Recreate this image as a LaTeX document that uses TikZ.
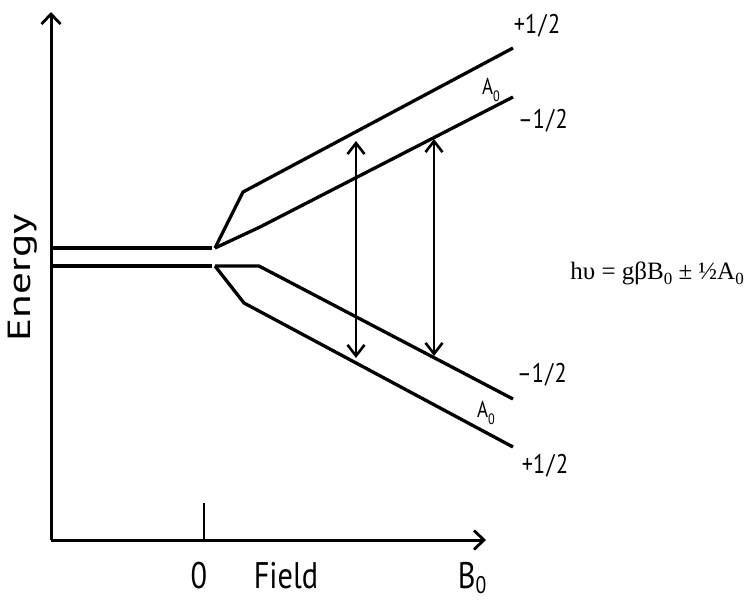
\documentclass[tikz,border=0pt]{standalone}
\usepackage{fontspec}
\setsansfont{PT Sans}
\newfontfamily\lblfont[FakeStretch=0.82]{PT Sans}
\newfontfamily\enfont[FakeStretch=1.35]{PT Sans}
\newfontfamily\eqfont{Liberation Serif}
\usetikzlibrary{arrows.meta,positioning}
\newcommand{\lowsub}[1]{\raisebox{-0.28em}{\fontsize{15}{15}\selectfont #1}}
\newcommand{\half}{1\kern1.5pt/\kern1.5pt2}
\tikzset{
  ax/.style    ={line width=3pt, -{Straight Barb[length=10pt,width=19pt,line width=2.8pt]}},
  tick/.style  ={line width=2.6pt},
  lvl/.style   ={line width=3.3pt, line join=miter},
  trans/.style ={line width=2.8pt, {Straight Barb[length=11pt,width=17pt,line width=2.6pt]}-{Straight Barb[length=11pt,width=17pt,line width=2.6pt]}},
  axlbl/.style ={font=\lblfont\fontsize{37}{37}\selectfont, inner sep=0pt, anchor=base},
  spin/.style  ={font=\lblfont\fontsize{27}{27}\selectfont, inner sep=0pt},
  hfc/.style   ={font=\lblfont\fontsize{23}{23}\selectfont, inner sep=0pt},
  eq/.style    ={font=\eqfont\fontsize{25}{25}\selectfont, inner sep=0pt, anchor=base east}
}

\begin{document}
\begin{tikzpicture}[x=1pt,y=-1pt]
  \useasboundingbox (0,0) rectangle (749,600);
  % --- axes
  \coordinate (o)    at (51,540);
  \coordinate (ytop) at (51,12);
  \coordinate (xend) at (486,540);
  \coordinate (t0)   at (204,540);
  \coordinate (t1)   at (204,503);
  \draw[ax] (o) -- (ytop);
  \draw[ax] (o) -- (xend);
  \draw[tick] (t0) -- (t1);
  \node[axlbl] (zero)  at (199,588) {0};
  \node[axlbl] (field) at (286,588) {Field};
  \node[axlbl] (bnot)  at (472,588) {B\raisebox{-0.16em}{\fontsize{24}{24}\selectfont 0}};
  \node[font=\enfont\fontsize{32}{32}\selectfont, rotate=90, inner sep=0pt] (energy) at (23,278) {Energy};

  % --- zero-field levels
  \coordinate (u0) at (51,248);  \coordinate (u1) at (212,248);
  \coordinate (l0) at (51,266);  \coordinate (l1) at (212,266);
  \draw[lvl] (u0) -- (u1);
  \draw[lvl] (l0) -- (l1);
  % --- split levels
  \coordinate (bu) at (215,248);  \coordinate (bl) at (215,266);
  \coordinate (ka) at (243,192);  \coordinate (ea) at (513,48);
  \coordinate (kb) at (260,227);  \coordinate (eb) at (513,97);
  \coordinate (kc) at (259,266);  \coordinate (ec) at (513,399);
  \coordinate (kd) at (244,303);  \coordinate (ed) at (513,447);
  \draw[lvl] (bu) -- (ka) -- (ea);
  \draw[lvl] (bu) -- (kb) -- (eb);
  \draw[lvl] (bl) -- (kc) -- (ec);
  \draw[lvl] (bl) -- (kd) -- (ed);

  \node[spin] (pa) at (537,26)  {+\half};
  \node[spin] (ma) at (543,121) {\textendash\half};
  \node[spin] (mb) at (542,375) {\textendash\half};
  \node[spin] (pb) at (545,466) {+\half};
  \node[hfc]  (aa) at (491,90)  {A\lowsub{0}};
  \node[hfc]  (ab) at (486,413) {A\lowsub{0}};

  % --- transitions
  \coordinate (ra) at (356,141);  \coordinate (sa) at (356,358);
  \coordinate (rb) at (434,139);  \coordinate (sb) at (434,356);
  \draw[trans] (ra) -- (sa);
  \draw[trans] (rb) -- (sb);

  \node[eq] (res) at (744,279) {hυ = gβB\raisebox{-0.2em}{\fontsize{17}{17}\selectfont 0} ± ½A\raisebox{-0.2em}{\fontsize{17}{17}\selectfont 0}};
\end{tikzpicture}
\end{document}
